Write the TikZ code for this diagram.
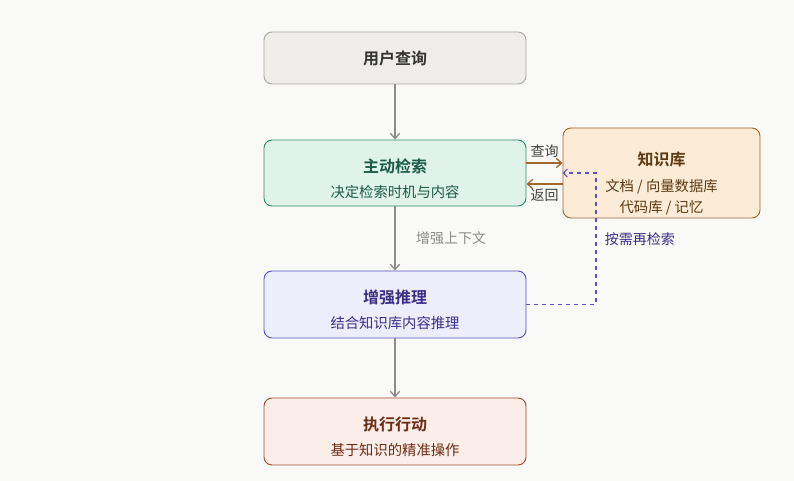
\documentclass[tikz,border=0pt]{standalone}
\usepackage{fontspec}
\setmainfont{Noto Sans CJK SC}[BoldFont={Noto Sans CJK SC Bold}]
\usetikzlibrary{positioning, arrows.meta}
\definecolor{bgcol}{HTML}{F9F9F7}
\definecolor{grayfill}{HTML}{EEEDE9}
\definecolor{graydraw}{HTML}{A8A7A2}
\definecolor{greenfill}{HTML}{DFF3EB}
\definecolor{greendraw}{HTML}{2E8A6E}
\definecolor{greentext}{HTML}{1B5B47}
\definecolor{orangefill}{HTML}{FCEBD7}
\definecolor{orangedraw}{HTML}{A0662C}
\definecolor{orangetext}{HTML}{5C3A12}
\definecolor{purplefill}{HTML}{EEEDFC}
\definecolor{purpledraw}{HTML}{5B50C2}
\definecolor{purpletext}{HTML}{3A2F88}
\definecolor{redfill}{HTML}{FBEDE8}
\definecolor{reddraw}{HTML}{A34B2E}
\definecolor{redtext}{HTML}{6B2C15}
\definecolor{arrowgray}{HTML}{8C8B87}
\tikzset{
    x=0.75pt, y=-0.75pt,
    box/.style={draw, rounded corners=6pt, line width=0.7pt, minimum width=196.5pt,
        inner sep=1pt, align=center, font=\fontsize{10.75}{15.75}\selectfont},
    flow/.style={-{Straight Barb[length=4pt,width=7pt]}, draw=arrowgray, line width=1pt},
    kb/.style={-{Straight Barb[length=4pt,width=7pt]}, draw=orangedraw, line width=1pt},
    lbl/.style={font=\fontsize{10.5}{12}\selectfont}
}
\newcommand{\ttl}[1]{{\fontsize{12}{14}\selectfont\bfseries #1}}
\newcommand{\twoline}[2]{\rule{0pt}{18.5pt}\ttl{#1}\\[3pt]#2}

\begin{document}
\begin{tikzpicture}
    \fill[bgcol] (0,0) rectangle (794,481);
    \useasboundingbox (0,0) rectangle (794,481);

    \node[box, fill=grayfill, draw=graydraw, text=black!80, minimum height=39pt] (query) at (395,58) {\ttl{用户查询}};
    \node[box, fill=greenfill, draw=greendraw, text=greentext, minimum height=49.5pt] (retrieve) at (395,173) {\twoline{主动检索}{决定检索时机与内容}};
    \node[box, fill=orangefill, draw=orangedraw, text=orangetext, minimum width=147.75pt, minimum height=67.5pt] (kbase) at (661.5,173) {\rule{0pt}{26pt}\ttl{知识库}\\[3.75pt]文档 / 向量数据库\\代码库 / 记忆};
    \node[box, fill=purplefill, draw=purpledraw, text=purpletext, minimum height=50.25pt] (reason) at (395,304.5) {\twoline{增强推理}{结合知识库内容推理}};
    \node[box, fill=redfill, draw=reddraw, text=redtext, minimum height=50.25pt] (act) at (395,431.5) {\twoline{执行行动}{基于知识的精准操作}};

    % main flow
    \draw[flow] (query) -- (retrieve);
    \draw[flow] (retrieve) -- node[lbl, right=12pt, text=arrowgray] {增强上下文} (reason);
    \draw[flow] (reason) -- (act);

    % knowledge base traffic
    \draw[kb] (retrieve.east |- 0,163) -- node[lbl, above, text=black!75] {查询} (kbase.west |- 0,163);
    \draw[kb] (kbase.west |- 0,184) -- node[lbl, below, text=black!75] {返回} (retrieve.east |- 0,184);

    % re-retrieval
    \coordinate (bend1) at (596,304.5);
    \coordinate (bend2) at (596,173);
    \draw[-{Straight Barb[length=3pt,width=6pt]}, draw=purpledraw, dashed, line width=0.8pt]
        (reason.east) -- (bend1) -- node[lbl, pos=0.5, right=3pt, text=purpletext] {按需再检索} (bend2) -- (kbase.west);
\end{tikzpicture}
\end{document}
